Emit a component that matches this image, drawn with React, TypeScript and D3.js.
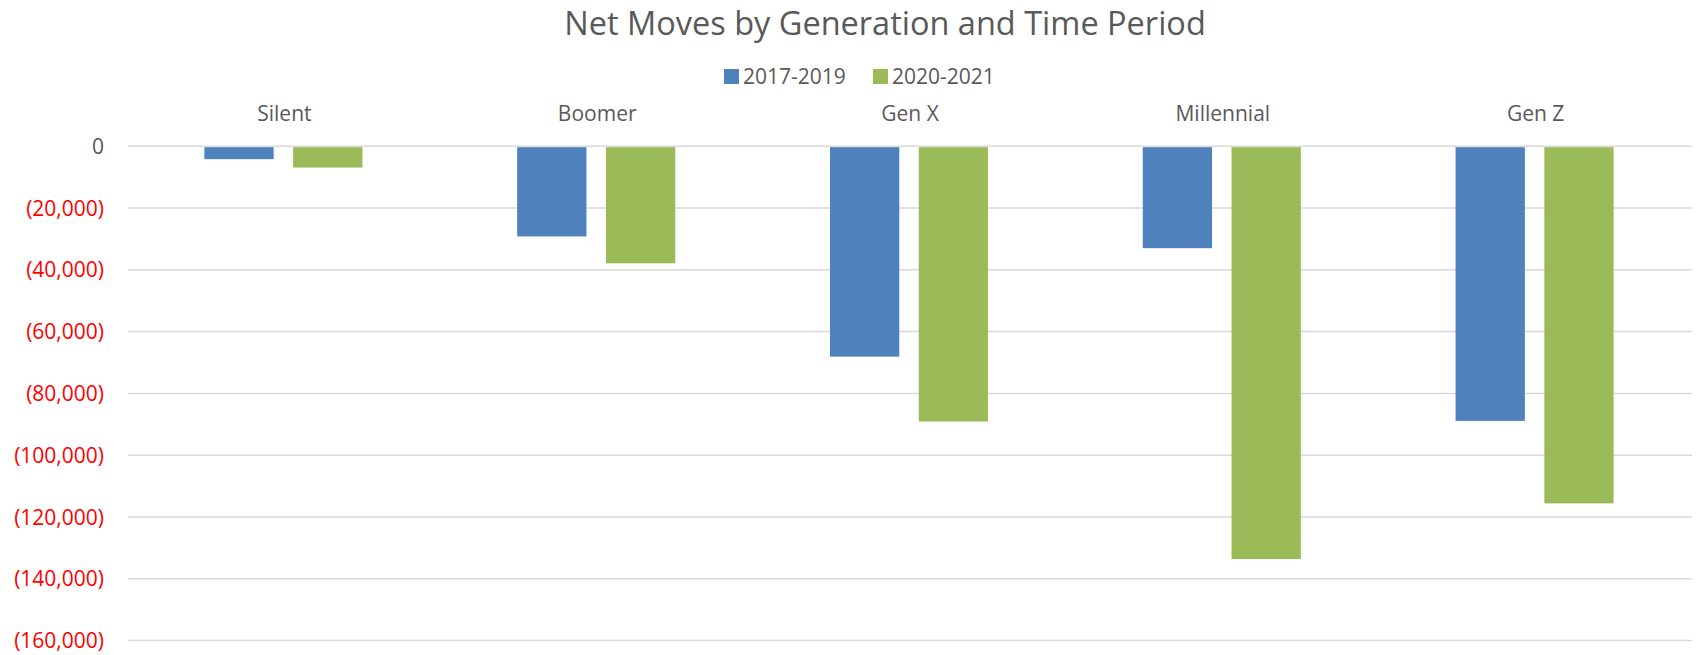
import React from "react";
import * as d3 from "d3";

const categories = ["Silent", "Boomer", "Gen X", "Millennial", "Gen Z"];
const seriesNames = ["2017-2019", "2020-2021"];
const values2017_2019 = [-4200, -29200, -68100, -33000, -88900];
const values2020_2021 = [-6900, -37900, -89100, -133600, -115600];
const yTicks = [0, -20000, -40000, -60000, -80000, -100000, -120000, -140000, -160000];
const colors = ["#4F81BD", "#9BBB59"];

const W = 1698;
const H = 655;
const FONT = "'Open Sans', 'Noto Sans', sans-serif";

export default function App() {
  const x0 = d3.scaleBand<string>().domain(categories).range([128, 1692]).paddingInner(0).paddingOuter(0);
  const y = d3.scaleLinear().domain([0, -160000]).range([146.2, 640.6]);
  const bw = x0.bandwidth();
  const barW = bw * 0.2215;
  const gap = bw * 0.0623;
  const series = [values2017_2019, values2020_2021];
  const fmt = d3.format(",");
  const label = (v: number) => (v < 0 ? `(${fmt(-v)})` : fmt(v));

  return (
    <svg width={W} height={H} style={{ position: "absolute", left: 0, top: 0, background: "#fff" }} fontFamily={FONT}>
      <rect x={0} y={0} width={W} height={H} fill="#fff" />
      <text x={885} y={35} textAnchor="middle" fontSize={32.5} fill="#595959">
        Net Moves by Generation and Time Period
      </text>
      {/* legend */}
      {seriesNames.map((s, i) => {
        const lx = [724, 873][i];
        return (
          <g key={s}>
            <rect x={lx} y={69} width={15} height={15} fill={colors[i]} />
            <text x={lx + 19} y={84} fontSize={21} fill="#595959">
              {s}
            </text>
          </g>
        );
      })}
      {/* category labels */}
      {categories.map((c) => (
        <text key={c} x={x0(c)! + bw / 2} y={121} textAnchor="middle" fontSize={21} fill="#595959">
          {c}
        </text>
      ))}
      {/* gridlines and y labels */}
      {yTicks.map((t) => (
        <g key={t}>
          <line x1={128} x2={1692} y1={y(t)} y2={y(t)} stroke="#D9D9D9" strokeWidth={1.5} />
          <text x={104} y={y(t) + 7.5} textAnchor="end" fontSize={21} fill={t < 0 ? "#FF0000" : "#595959"}>
            {label(t)}
          </text>
        </g>
      ))}
      {/* bars */}
      {categories.map((c, ci) =>
        series.map((vals, si) => {
          const cx = x0(c)! + bw / 2 - 1;
          const left = cx - barW - gap / 2 + si * (barW + gap);
          const v = vals[ci];
          return (
            <rect
              key={c + si}
              x={left}
              y={y(0) + 1}
              width={barW}
              height={y(v) - y(0) - 1}
              fill={colors[si]}
            />
          );
        })
      )}
    </svg>
  );
}
